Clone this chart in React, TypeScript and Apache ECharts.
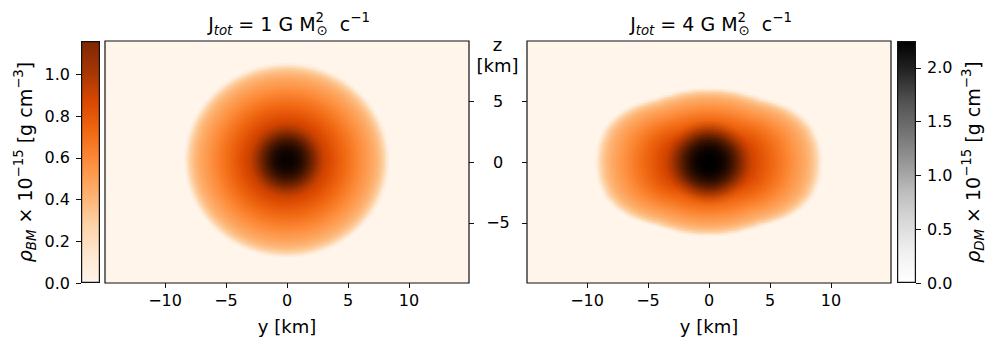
import React, { useEffect, useRef } from 'react';
import * as echarts from 'echarts';

const FONT = 'DejaVu Sans';

// ---- axes / ticks ----
const X_TICKS = [-10, -5, 0, 5, 10];
const Z_TICKS = [-5, 0, 5];
const BM_TICKS = [0, 0.2, 0.4, 0.6, 0.8, 1.0];
const DM_TICKS = [0, 0.5, 1.0, 1.5, 2.0];
const X_RANGE = [-14.92, 14.92];
const Z_RANGE = [-9.92, 9.92];
const BM_MAX = 1.16;
const DM_MAX = 2.25;
const J_TOT = ['1', '4'];

// ---- colormaps ----
const ORANGES = ['#fff5eb', '#fee6ce', '#fdd0a2', '#fdae6b', '#fd8d3c', '#f16913', '#d94801', '#a63603', '#7f2704'];
const GREYS = ['#ffffff', '#f0f0f0', '#d9d9d9', '#bdbdbd', '#969696', '#737373', '#525252', '#252525', '#000000'];

// ---- baryonic matter profile vs normalised radius (r / surface radius) ----
const BM_S = [0, 0.12, 0.24, 0.36, 0.48, 0.6, 0.72, 0.84, 0.9, 0.945, 0.975, 1.0];
const BM_RHO = [1.16, 1.12, 1.03, 0.92, 0.8, 0.69, 0.58, 0.46, 0.38, 0.28, 0.13, 0];

// left star surface (km)
const LEFT_R_EQ = 8.42;
const LEFT_R_POL = 8.0;
const LEFT_Z0 = 0.15;

// right star surface radius vs angle from equator (deg, km)
const RIGHT_PHI = [0, 9.5, 18, 26, 35, 41.4, 50, 61.4, 75.6, 90];
const RIGHT_R = [9.35, 9.28, 9.08, 8.62, 7.96, 7.44, 6.86, 6.44, 6.18, 6.08];

// dark matter profiles vs radius (km)
const DM_L_R = [0, 0.5, 1.0, 1.5, 2.0, 2.5, 3.0];
const DM_L_RHO = [1.98, 1.86, 1.52, 1.02, 0.52, 0.16, 0];
const DM_R_R = [0, 0.5, 1.0, 1.5, 2.0, 2.5, 3.0, 3.5];
const DM_R_RHO = [2.25, 2.16, 1.88, 1.42, 0.9, 0.44, 0.14, 0];

const NX = 182;
const NZ = 121;
const DX = (X_RANGE[1] - X_RANGE[0]) / NX;
const DZ = (Z_RANGE[1] - Z_RANGE[0]) / NZ;
const CAT_X = Array.from({ length: NX }, (_, i) => i);
const CAT_Z = Array.from({ length: NZ }, (_, j) => j);

function interp(xs: number[], ys: number[], x: number): number {
  if (x <= xs[0]) return ys[0];
  for (let k = 1; k < xs.length; k++) {
    if (x <= xs[k]) {
      const t = (x - xs[k - 1]) / (xs[k] - xs[k - 1]);
      return ys[k - 1] + t * (ys[k] - ys[k - 1]);
    }
  }
  return ys[ys.length - 1];
}

function field(fn: (x: number, z: number) => number) {
  const out: number[][] = [];
  for (let i = 0; i < NX; i++) {
    const x = X_RANGE[0] + (i + 0.5) * DX;
    for (let j = 0; j < NZ; j++) {
      const z = Z_RANGE[0] + (j + 0.5) * DZ;
      const v = fn(x, z);
      if (v > 0.003) out.push([i, j, +v.toFixed(4)]);
    }
  }
  return out;
}

const BM_LEFT = field((x, z) =>
  interp(BM_S, BM_RHO, Math.sqrt((x / LEFT_R_EQ) ** 2 + ((z - LEFT_Z0) / LEFT_R_POL) ** 2))
);
const DM_LEFT = field((x, z) => interp(DM_L_R, DM_L_RHO, Math.hypot(x, z - LEFT_Z0)));
const BM_RIGHT = field((x, z) => {
  const r = Math.hypot(x, z);
  const phi = (Math.atan2(Math.abs(z), Math.abs(x)) * 180) / Math.PI;
  return interp(BM_S, BM_RHO, r / interp(RIGHT_PHI, RIGHT_R, phi));
});
const DM_RIGHT = field((x, z) => interp(DM_R_R, DM_R_RHO, Math.hypot(x, z)));

const minus = (v: number) => String(v).replace('-', '\u2212');

const base = { fontFamily: FONT, color: '#000', fontWeight: 'normal' as const };
const makeRich = (fs: number): any => {
  const s = +(fs * 0.7).toFixed(1);
  return {
    m: { ...base, align: 'left', fontSize: fs, lineHeight: 26 },
    it: { ...base, align: 'left', fontSize: fs, fontStyle: 'italic', lineHeight: 26 },
    sub: { ...base, align: 'left', fontSize: s, fontStyle: 'italic', lineHeight: 14, verticalAlign: 'bottom' },
    subs: { ...base, align: 'left', fontSize: s, lineHeight: 12, verticalAlign: 'bottom' },
    sup: { ...base, align: 'left', fontSize: s, lineHeight: 18, verticalAlign: 'top' },
    supw: { ...base, align: 'left', fontSize: s, lineHeight: 18, verticalAlign: 'top', width: 1 },
  };
};

const tick = (vals: number[]) => ({ show: true, length: 5, customValues: vals, lineStyle: { color: '#111', width: 1 } });
const lab = { fontSize: 16, fontFamily: FONT, color: '#000' };
const noLine = { show: false, onZero: false };

const gradient = (cols: string[]) =>
  new echarts.graphic.LinearGradient(0, 1, 0, 0, cols.map((c, i) => ({ offset: i / (cols.length - 1), color: c })));

const plotGrid = (left: number) => ({
  left, top: 41, width: 364, height: 242, show: true,
  backgroundColor: ORANGES[0], borderColor: '#111', borderWidth: 1.2,
});

const valueX = (gridIndex: number) => ({
  type: 'value', gridIndex, position: 'bottom', min: X_RANGE[0], max: X_RANGE[1],
  axisLine: noLine, splitLine: { show: false },
  axisTick: tick(X_TICKS),
  axisLabel: { ...lab, customValues: X_TICKS, formatter: minus, margin: 9 },
  name: 'y [km]', nameLocation: 'middle', nameGap: 34,
  nameTextStyle: { fontSize: 18, fontFamily: FONT, color: '#000' },
});

const cbName = (sub: string) => `{it|ρ}{sub|${sub}}{m| × 10}{sup|−15}{m| [g cm}{sup|−3}{m|]}`;

const option: any = {
  animation: false,
  title: J_TOT.map((j, k) => ({
    text: `{m|J}{sub|tot}{m| = ${j} G M}{supw|2}{subs|⊙}{m|  c}{sup|−1}`,
    left: k === 0 ? 289 : 711, top: 11, textAlign: 'center', padding: 0,
    textStyle: { ...base, fontSize: 19, rich: makeRich(19) },
  })),
  graphic: [
    {
      type: 'text', x: 497.5, y: 34, silent: true,
      style: { text: 'z\n[km]', font: `18px ${FONT}`, fill: '#000', align: 'center', verticalAlign: 'top', lineHeight: 21 },
    },
  ],
  grid: [
    plotGrid(105),
    plotGrid(527),
    { left: 81, top: 41, width: 19, height: 242 },
    { left: 897, top: 41, width: 19, height: 242 },
  ],
  xAxis: [
    { type: 'category', gridIndex: 0, position: 'top', data: CAT_X, show: false },
    valueX(0),
    { type: 'category', gridIndex: 1, position: 'top', data: CAT_X, show: false },
    valueX(1),
    { type: 'category', gridIndex: 2, data: ['cb'], show: false },
    { type: 'category', gridIndex: 3, data: ['cb'], show: false },
  ],
  yAxis: [
    { type: 'category', gridIndex: 0, position: 'left', data: CAT_Z, show: false },
    {
      type: 'value', gridIndex: 0, position: 'right', min: Z_RANGE[0], max: Z_RANGE[1],
      axisLine: noLine, splitLine: { show: false }, axisTick: tick(Z_TICKS),
      axisLabel: { ...lab, customValues: Z_TICKS, formatter: minus, align: 'center', margin: 29 },
    },
    { type: 'category', gridIndex: 1, position: 'right', data: CAT_Z, show: false },
    {
      type: 'value', gridIndex: 1, position: 'left', min: Z_RANGE[0], max: Z_RANGE[1],
      axisLine: noLine, splitLine: { show: false }, axisTick: tick(Z_TICKS), axisLabel: { show: false },
    },
    {
      type: 'value', gridIndex: 2, position: 'left', min: 0, max: BM_MAX,
      axisLine: noLine, splitLine: { show: false }, axisTick: tick(BM_TICKS),
      axisLabel: { ...lab, customValues: BM_TICKS, formatter: (v: number) => v.toFixed(1), margin: 11 },
      name: cbName('BM'), nameLocation: 'middle', nameRotate: 90, nameGap: 43,
      nameTextStyle: { ...base, fontSize: 19, rich: makeRich(19) },
    },
    {
      type: 'value', gridIndex: 3, position: 'right', min: 0, max: DM_MAX,
      axisLine: noLine, splitLine: { show: false }, axisTick: tick(DM_TICKS),
      axisLabel: { ...lab, customValues: DM_TICKS, formatter: (v: number) => v.toFixed(1), margin: 11 },
      name: cbName('DM'), nameLocation: 'middle', nameRotate: 90, nameGap: 44,
      nameTextStyle: { ...base, fontSize: 19, rich: makeRich(19) },
    },
  ],
  visualMap: [
    { type: 'continuous', show: false, seriesIndex: [0, 2], dimension: 2, min: 0, max: BM_MAX, inRange: { color: ORANGES } },
    { type: 'continuous', show: false, seriesIndex: [1, 3], dimension: 2, min: 0, max: DM_MAX, inRange: { color: ['rgba(0,0,0,0)', 'rgba(0,0,0,1)'] } },
  ],
  series: [
    { type: 'heatmap', xAxisIndex: 0, yAxisIndex: 0, data: BM_LEFT, progressive: 0, silent: true, emphasis: { disabled: true } },
    { type: 'heatmap', xAxisIndex: 0, yAxisIndex: 0, data: DM_LEFT, progressive: 0, silent: true, emphasis: { disabled: true } },
    { type: 'heatmap', xAxisIndex: 2, yAxisIndex: 2, data: BM_RIGHT, progressive: 0, silent: true, emphasis: { disabled: true } },
    { type: 'heatmap', xAxisIndex: 2, yAxisIndex: 2, data: DM_RIGHT, progressive: 0, silent: true, emphasis: { disabled: true } },
    {
      type: 'bar', xAxisIndex: 4, yAxisIndex: 4, data: [BM_MAX], barWidth: '100%', silent: true,
      itemStyle: { color: gradient(ORANGES), borderColor: '#111', borderWidth: 1.2 },
    },
    {
      type: 'bar', xAxisIndex: 5, yAxisIndex: 5, data: [DM_MAX], barWidth: '100%', silent: true,
      itemStyle: { color: gradient(GREYS), borderColor: '#111', borderWidth: 1.2 },
    },
  ],
};

export default function App() {
  const ref = useRef<HTMLDivElement>(null);
  useEffect(() => {
    const chart = echarts.init(ref.current!, null, { renderer: 'svg' });
    chart.setOption(option);
    return () => chart.dispose();
  }, []);
  return <div ref={ref} style={{ position: 'absolute', left: 0, top: 0, width: 997, height: 350 }} />;
}
